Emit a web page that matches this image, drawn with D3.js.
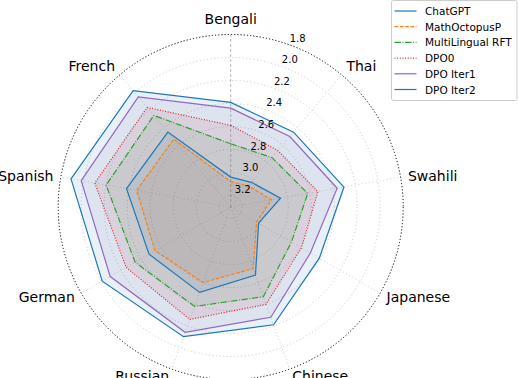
<!DOCTYPE html>
<html>
<head>
<meta charset="utf-8">
<title>Radar</title>
<script src="https://d3js.org/d3.v7.min.js"></script>
<style>
html,body{margin:0;padding:0;background:#fff;}
svg{display:block;font-family:"DejaVu Sans",sans-serif;}
</style>
</head>
<body>
<script>
// categories clockwise from the top
var categories=["Bengali","Thai","Swahili","Japanese","Chinese","Russian","German","Spanish","French"];
var chatgpt    =[3.04,3.02,2.86,3.02,2.67,2.51,2.48,2.38,2.45];
var mathOctopus=[3.08,3.06,2.94,3.04,2.73,2.60,2.54,2.47,2.53];
var multiRFT   =[2.75,2.74,2.62,2.69,2.47,2.38,2.34,2.20,2.26];
var dpo0       =[2.59,2.66,2.53,2.59,2.40,2.26,2.25,2.10,2.17];
var dpoIter1   =[2.44,2.50,2.36,2.50,2.28,2.14,2.09,1.98,2.05];
var dpoIter2   =[2.39,2.45,2.30,2.41,2.21,2.10,2.01,1.89,1.98];
var seriesNames=["ChatGPT","MathOctopusP","MultiLingual RFT","DPO0","DPO Iter1","DPO Iter2"];
var rTicks=[1.8,2.0,2.2,2.4,2.6,2.8,3.0,3.2];

var seriesValues=[chatgpt,mathOctopus,multiRFT,dpo0,dpoIter1,dpoIter2];
var colors=["#1f77b4","#ff7f0e","#2ca02c","#d62728","#9467bd","#1f77b4"];
var dashes=[null,"3.7,1.6","6.4,1.6,1,1.6","1,1.65",null,null];

var W=518,H=378,cx=230.7,cy=207,R=172.5;
var svg=d3.select("body").append("svg").attr("width",W).attr("height",H);
var g=svg.append("g").attr("transform","translate("+cx+","+cy+")");

var r=d3.scaleLinear().domain([3.3,1.8]).range([0,R]);
var ang=d3.scaleLinear().domain([0,categories.length]).range([0,2*Math.PI]);

// grid circles
g.selectAll(".grid").data(rTicks.slice(1)).enter().append("circle")
	.attr("r",d=>r(d)).attr("fill","none")
	.attr("stroke","#b8b8b8").attr("stroke-width",0.8).attr("stroke-dasharray","1,2.6");

// spokes
g.selectAll(".spoke").data(categories).enter().append("line")
	.attr("x1",0).attr("y1",0)
	.attr("x2",(d,i)=>R*Math.sin(ang(i))).attr("y2",(d,i)=>-R*Math.cos(ang(i)))
	.attr("stroke",(d,i)=>i==0?"#a8a8a8":"#c0c0c0").attr("stroke-width",0.8)
	.attr("stroke-dasharray",(d,i)=>i==0?"3,2":"1,2.6");

var line=d3.lineRadial()
	.angle((d,i)=>ang(i))
	.radius(d=>r(d))
	.curve(d3.curveLinearClosed);

// fills
g.selectAll(".area").data(seriesValues).enter().append("path")
	.attr("d",d=>line(d)).attr("fill",(d,i)=>colors[i]).attr("fill-opacity",0.1).attr("stroke","none");
// lines
g.selectAll(".ser").data(seriesValues).enter().append("path")
	.attr("d",d=>line(d)).attr("fill","none")
	.attr("stroke",(d,i)=>colors[i]).attr("stroke-width",1.2)
	.attr("stroke-dasharray",(d,i)=>dashes[i]);

// outer frame
g.append("circle").attr("r",R).attr("fill","none")
	.attr("stroke","#000").attr("stroke-width",1).attr("stroke-dasharray","1.2,2");

// radial tick labels
var la=20*Math.PI/180;
g.selectAll(".rl").data(rTicks).enter().append("text")
	.attr("x",d=>r(d)*Math.sin(la)+8).attr("y",d=>-r(d)*Math.cos(la)-6.8)
	.attr("text-anchor","middle").attr("dominant-baseline","central")
	.attr("font-size",10).attr("fill","#000").text(d=>d.toFixed(1));

// category labels
g.selectAll(".cl").data(categories).enter().append("text")
	.attr("x",(d,i)=>180*Math.sin(ang(i)))
	.attr("y",(d,i)=>-180*Math.cos(ang(i))-8*Math.pow(Math.max(0,Math.cos(ang(i))),4))
	.attr("text-anchor",(d,i)=>{var s=Math.sin(ang(i));return Math.abs(s)<1e-6?"middle":(s>0?"start":"end");})
	.attr("dominant-baseline","central")
	.attr("font-size",14).attr("fill","#000").text(d=>d);

// legend
var lg=svg.append("g").attr("transform","translate(391.5,0.5)");
lg.append("rect").attr("width",125.5).attr("height",100).attr("rx",2)
	.attr("fill","#fff").attr("fill-opacity",0.8).attr("stroke","#cccccc").attr("stroke-width",1);
var ly=d3.scaleLinear().domain([0,1]).range([10.5,26.2]);
seriesNames.forEach(function(n,i){
	lg.append("line").attr("x1",3).attr("x2",25).attr("y1",ly(i)).attr("y2",ly(i))
		.attr("stroke",colors[i]).attr("stroke-width",1.2).attr("stroke-dasharray",dashes[i]);
	lg.append("text").attr("x",33.5).attr("y",ly(i)).attr("dominant-baseline","central")
		.attr("font-size",10.5).attr("fill","#000").text(n);
});
</script>
</body>
</html>
